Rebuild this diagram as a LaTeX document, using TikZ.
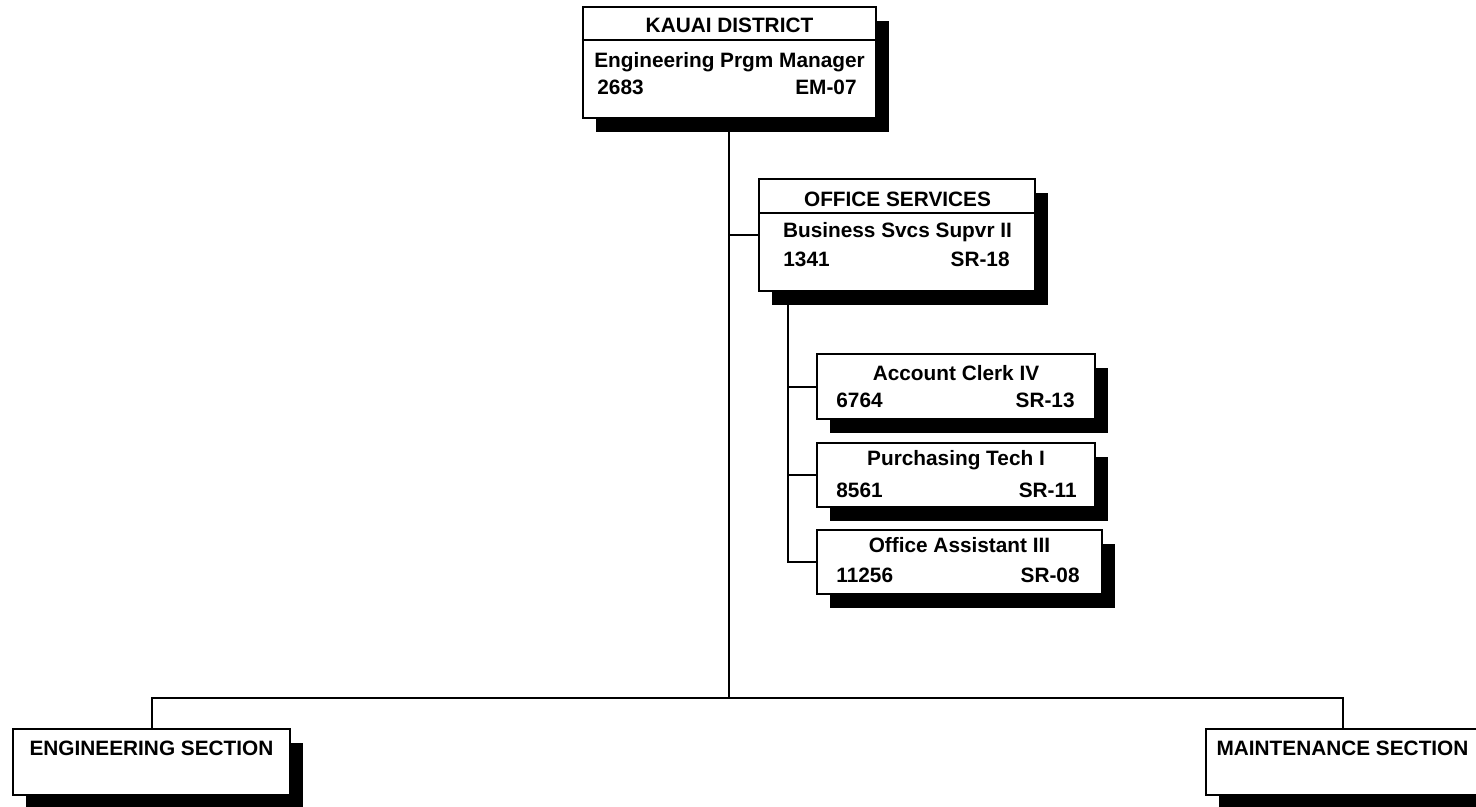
\documentclass[tikz,border=0pt]{standalone}
\usepackage{fontspec}
\setmainfont{Liberation Sans}
\usetikzlibrary{shadows}

\begin{document}
\begin{tikzpicture}[x=0.5pt, y=-0.5pt, font=\fontsize{10.4}{12}\selectfont\bfseries,
    post/.style={draw, line width=1pt, fill=white, inner sep=0pt,
      drop shadow={shadow xshift=6.5pt, shadow yshift=-7pt, fill=black, opacity=1}},
    head/.style={post, minimum height=56pt},
    staff/.style={post, minimum height=32pt},
    link/.style={draw, line width=1pt},
    txt/.style={anchor=base, inner sep=0pt},
    num/.style={anchor=base west, inner sep=0pt},
    grade/.style={anchor=base east, inner sep=0pt},
  ]
  \useasboundingbox (0,0) rectangle (1476,807);

  % boxes, drawn first with their shadows
  \node[head, minimum width=146.5pt, minimum height=55.5pt] (kauai) at (729, 63) {};
  \node[head, minimum width=138pt] (office) at (897, 235.5) {};
  \node[staff, minimum width=139pt, minimum height=32.5pt] (clerk) at (956, 386.5) {};
  \node[staff, minimum width=139pt] (purch) at (956, 475) {};
  \node[staff, minimum width=142.5pt] (asst) at (959.5, 561.5) {};
  \node[staff, minimum width=138.5pt, minimum height=33pt] (eng) at (151.5, 762) {};
  \node[staff, minimum width=137pt, minimum height=33pt] (maint) at (1343, 762) {};

  % title rules
  \draw[link] (kauai.west |- 0,40) -- (kauai.east |- 0,40);
  \draw[link] (office.west |- 0,213) -- (office.east |- 0,213);

  % connectors
  \coordinate (hub) at (kauai.south |- 0,698);
  \coordinate (ofs) at (788, 292);
  \draw[link] (kauai.south) -- (hub);
  \draw[link] (eng.north) |- (hub) -| (maint.north);
  \draw[link] (kauai.south |- office.west) -- (office.west);
  \draw[link] (ofs) |- (clerk.west);
  \draw[link] (ofs) |- (purch.west);
  \draw[link] (ofs) |- (asst.west);

  % texts
  \node[txt] (kauaiT) at (729.5, 33) {KAUAI DISTRICT};
  \node[txt] (kauaiP) at (729.5, 68) {Engineering Prgm Manager};
  \node[num] (kauaiN) at (597, 95) {2683};
  \node[grade] (kauaiG) at (857, 95) {EM-07};

  \node[txt] (officeT) at (897.5, 207) {OFFICE SERVICES};
  \node[txt] (officeP) at (897.5, 238) {Business Svcs Supvr II};
  \node[num] (officeN) at (783, 267) {1341};
  \node[grade] (officeG) at (1010, 267) {SR-18};

  \node[txt] (clerkP) at (956, 380) {Account Clerk IV};
  \node[num] (clerkN) at (836, 408) {6764};
  \node[grade] (clerkG) at (1075, 408) {SR-13};

  \node[txt] (purchP) at (956, 465) {Purchasing Tech I};
  \node[num] (purchN) at (836, 497) {8561};
  \node[grade] (purchG) at (1077, 497) {SR-11};

  \node[txt] (asstP) at (959.5, 552) {Office Assistant III};
  \node[num] (asstN) at (836, 582) {11256};
  \node[grade] (asstG) at (1080, 582) {SR-08};

  \node[txt] (engT) at (151.5, 755) {ENGINEERING SECTION};
  \node[txt] (maintT) at (1342.5, 755) {MAINTENANCE SECTION};
\end{tikzpicture}
\end{document}
